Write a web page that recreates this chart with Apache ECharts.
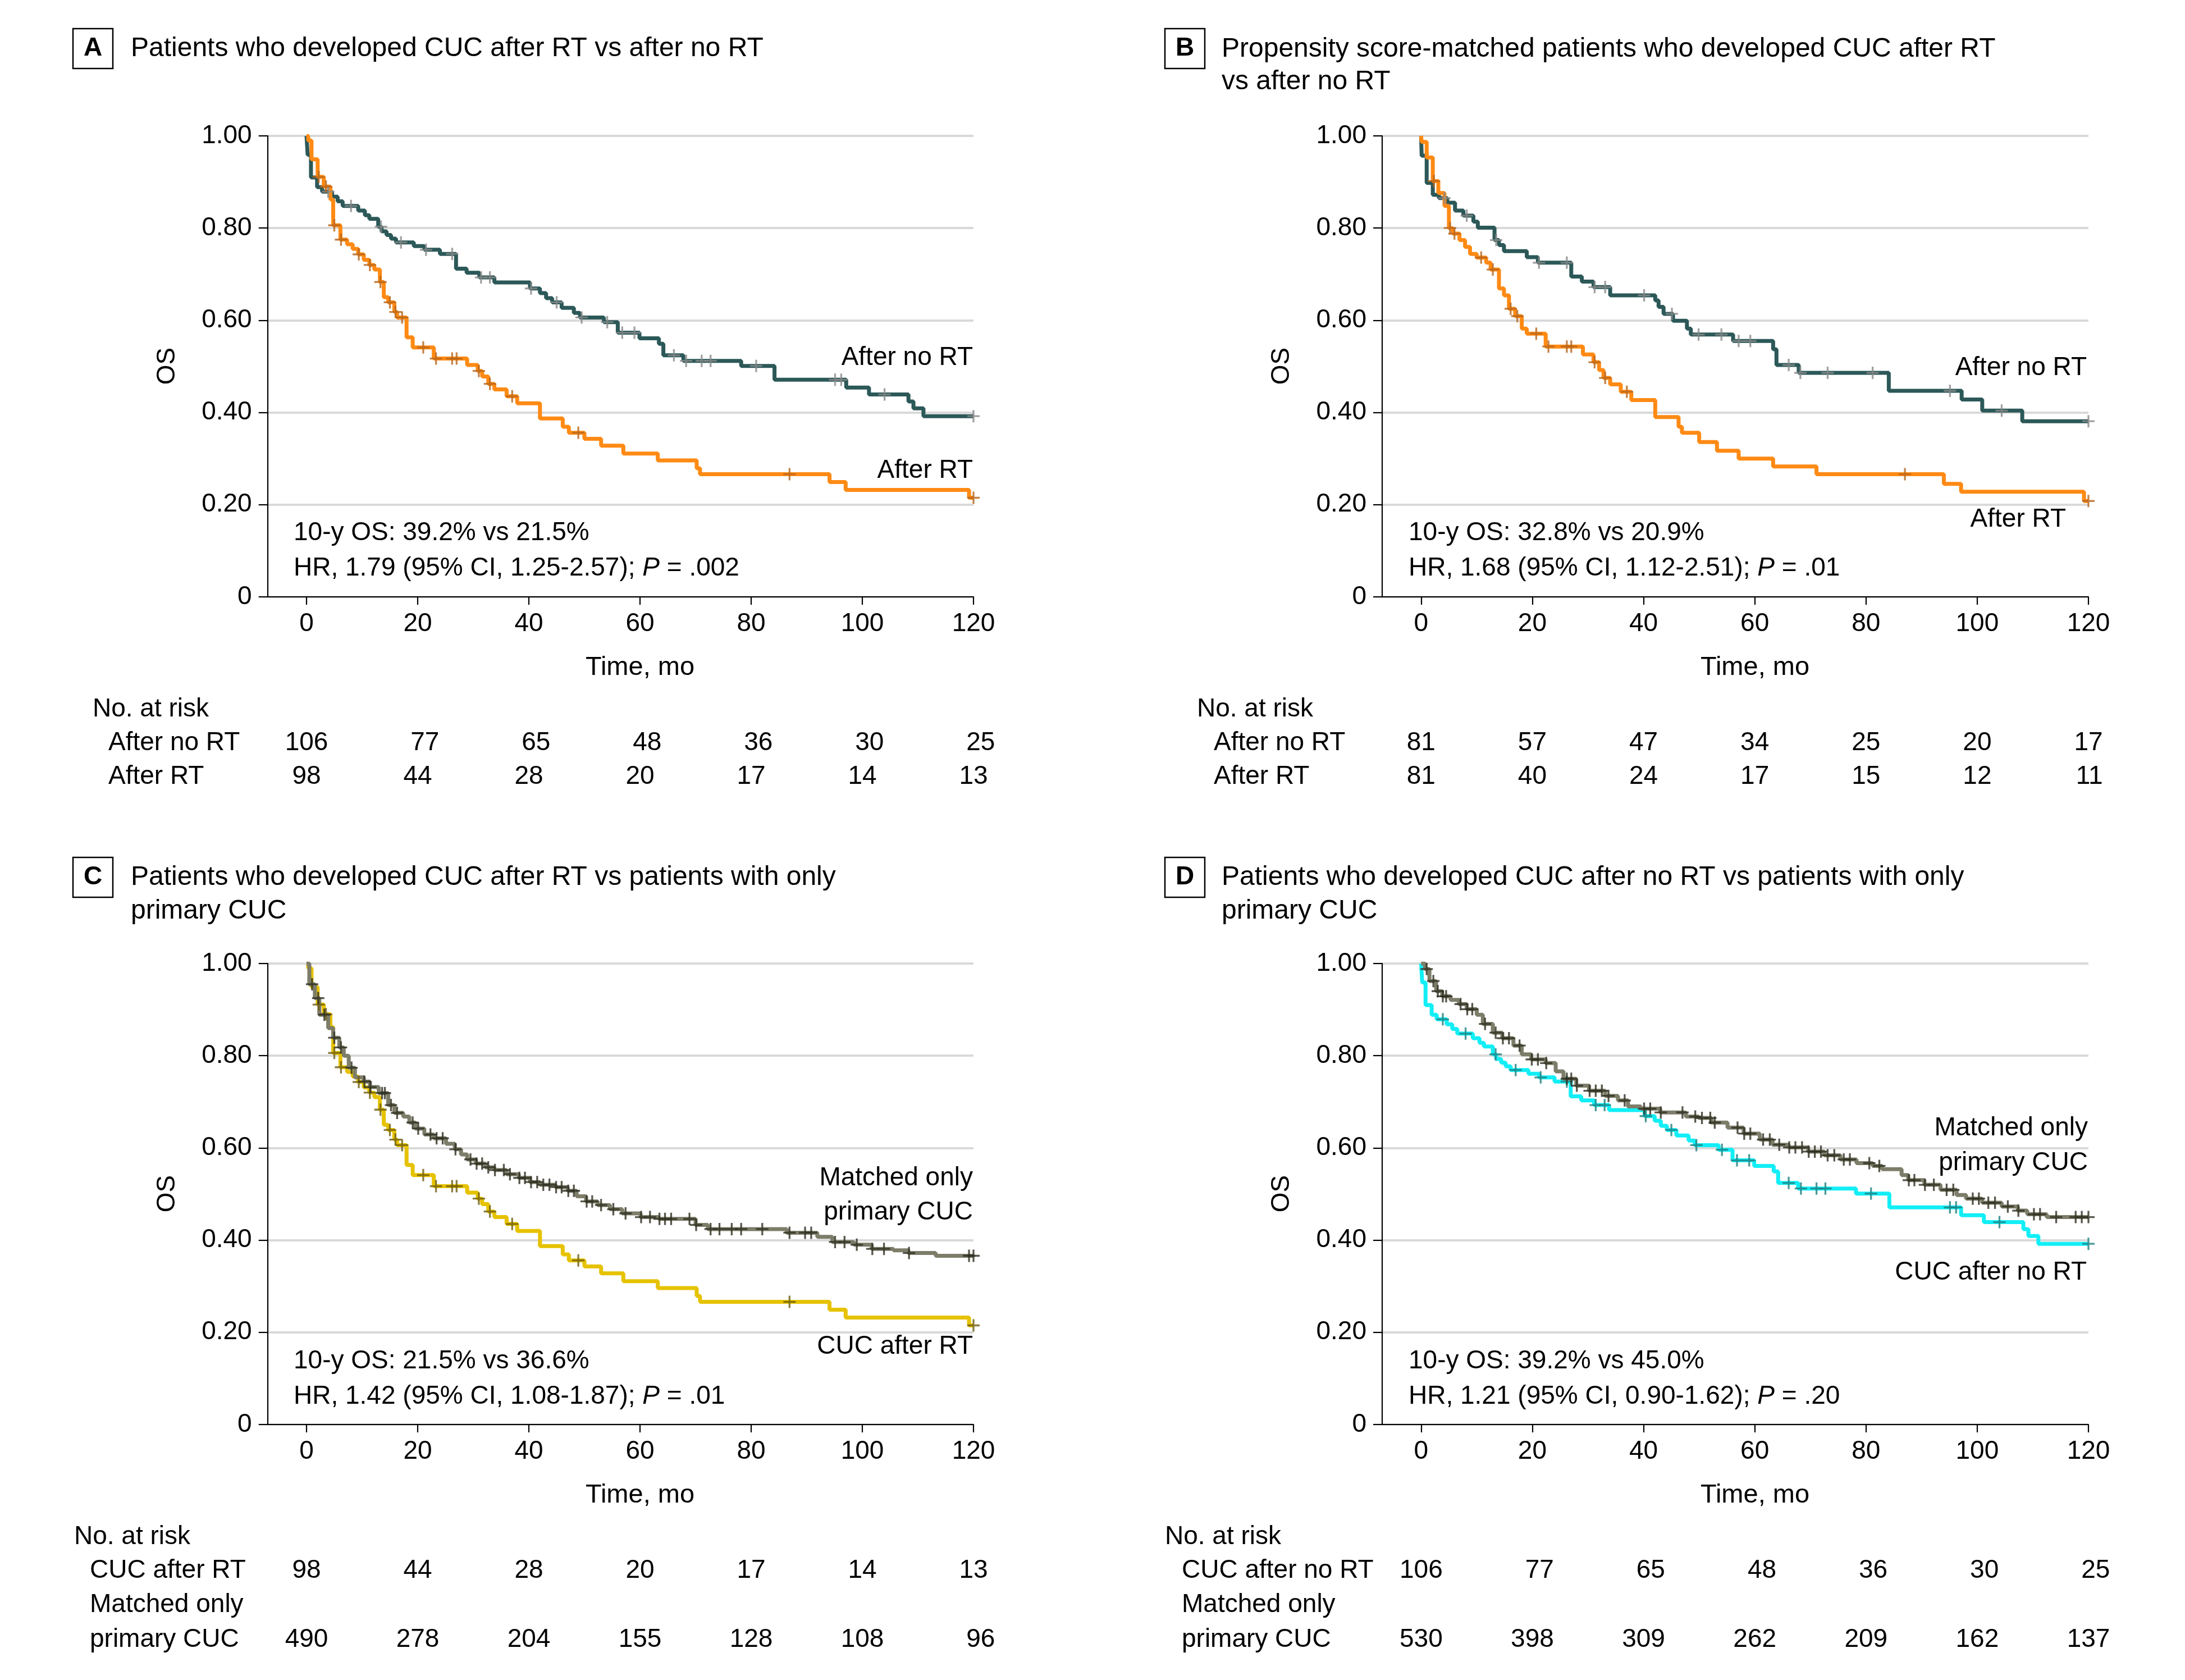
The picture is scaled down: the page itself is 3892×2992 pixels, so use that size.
<!DOCTYPE html>
<html>
<head>
<meta charset="utf-8">
<script src="https://cdn.jsdelivr.net/npm/echarts@6/dist/echarts.min.js"></script>
<style>
html,body{margin:0;padding:0;background:#fff;}
#c{width:3892px;height:2992px;}
</style>
</head>
<body>
<div id="c"></div>
<script>
// ---------------- DATA ----------------
const timeTicks = [0, 20, 40, 60, 80, 100, 120];
const osTicks = [0, 0.2, 0.4, 0.6, 0.8, 1.0];

// Panel A / D : patients who developed CUC after no RT  [month, survival]
const afterNoRT = [[0.2,0.959],[0.8,0.910],[1.9,0.889],[2.8,0.879],[4.6,0.868],[5.6,0.858],[6.5,0.848],[9.3,0.838],[10.5,0.828],[11.3,0.820],
  [12.9,0.803],[13.5,0.793],[14.4,0.785],[15.2,0.777],[16.1,0.769],[19.3,0.761],[21.2,0.753],[24.0,0.744],[26.9,0.712],[28.8,0.703],
  [31.1,0.693],[33.8,0.682],[40.2,0.669],[42.0,0.659],[43.1,0.648],[44.2,0.639],[45.9,0.627],[48.1,0.616],[49.2,0.606],[53.5,0.596],
  [56.0,0.573],[59.9,0.561],[63.4,0.549],[64.2,0.524],[67.8,0.512],[78.2,0.501],[84.2,0.471],[97.1,0.454],[101.2,0.439],[108.3,0.424],
  [109.2,0.409],[111.0,0.392]];
const afterNoRTCensor = [3.9,8.0,13.4,17.0,21.5,26.2,31.4,33.0,40.4,45.0,49.5,54.1,56.8,59.0,66.1,68.3,71.1,72.7,80.9,95.1,96.2,104.0,120];

// Panel A / C : patients who developed CUC after RT
const afterRT = [[0.3,0.990],[0.9,0.949],[2.0,0.911],[3.1,0.890],[4.3,0.862],[4.8,0.806],[6.1,0.775],[7.3,0.765],[8.3,0.755],[9.3,0.743],
  [10.3,0.731],[11.3,0.720],[12.2,0.710],[13.2,0.683],[13.9,0.650],[14.7,0.639],[15.8,0.618],[16.3,0.606],[18.0,0.563],[19.1,0.541],
  [22.9,0.517],[28.9,0.503],[30.8,0.490],[31.6,0.478],[32.7,0.462],[33.8,0.450],[36.0,0.435],[37.9,0.420],[42.0,0.387],[46.1,0.369],
  [47.2,0.356],[50.0,0.343],[53.0,0.328],[57.0,0.311],[63.2,0.296],[70.2,0.279],[70.8,0.266],[94.1,0.249],[97.0,0.232],[119.2,0.215]];
const afterRTCensor = [2.2,3.5,5.0,6.2,9.4,11.4,13.3,15.0,16.0,17.2,21.0,23.3,26.2,27.0,31.0,33.0,37.0,48.9,86.9,120];

// Panel B : propensity score-matched
const psmNoRT = [[0.1,0.957],[1.0,0.898],[2.1,0.872],[3.2,0.865],[4.7,0.855],[6.1,0.838],[7.6,0.827],[9.4,0.814],[10.2,0.801],[13.2,0.774],
  [14.0,0.763],[14.9,0.750],[19.0,0.737],[21.0,0.725],[27.0,0.695],[28.9,0.684],[31.0,0.672],[34.0,0.654],[42.1,0.643],[42.7,0.629],
  [43.6,0.614],[45.3,0.599],[47.8,0.582],[48.5,0.569],[56.1,0.555],[63.3,0.537],[63.9,0.503],[67.9,0.486],[84.1,0.447],[97.2,0.428],
  [100.9,0.404],[108.1,0.381]];
const psmNoRTCensor = [4.2,8.2,13.5,21.2,26.2,31.2,33.1,40.1,45.1,49.9,54.0,57.1,59.2,66.1,68.2,73.1,81.2,95.1,104.4,120];
const psmRT = [[0.1,0.987],[1.0,0.953],[2.1,0.902],[3.1,0.876],[4.2,0.848],[5.0,0.800],[5.7,0.788],[6.9,0.774],[7.9,0.759],[8.8,0.744],
  [10.0,0.736],[11.7,0.725],[12.5,0.710],[14.0,0.669],[14.9,0.654],[15.8,0.625],[16.9,0.609],[18.1,0.582],[19.0,0.571],[22.4,0.543],
  [29.1,0.526],[31.0,0.509],[32.0,0.492],[32.8,0.475],[34.0,0.461],[35.9,0.445],[37.8,0.427],[42.1,0.390],[46.3,0.369],[46.9,0.356],
  [50.0,0.336],[53.2,0.317],[57.1,0.300],[63.3,0.283],[71.1,0.266],[94.0,0.245],[97.1,0.228],[119.2,0.208]];
const psmRTCensor = [2.3,5.2,6.0,10.8,12.9,16.1,17.3,20.7,22.9,26.2,27.0,31.2,33.1,37.0,87.0,120];

// Panel C : matched only primary CUC (vs after RT)
const matchedC = [[0.5,0.955],[1.5,0.925],[2.3,0.889],[3.9,0.860],[4.8,0.839],[5.9,0.818],[6.7,0.800],[7.6,0.774],[8.7,0.753],[10.3,0.744],
  [11.4,0.732],[13.0,0.719],[14.7,0.693],[15.8,0.676],[17.4,0.668],[18.5,0.655],[19.6,0.642],[21.2,0.629],[22.9,0.621],[25.1,0.609],
  [26.7,0.597],[27.8,0.586],[28.9,0.575],[30.5,0.566],[32.2,0.558],[33.8,0.552],[36.0,0.543],[38.2,0.535],[40.2,0.526],[42.0,0.520],
  [44.8,0.515],[47.0,0.507],[48.6,0.495],[50.3,0.484],[52.4,0.476],[54.6,0.467],[56.8,0.458],[60.1,0.450],[63.4,0.446],[70.0,0.433],
  [72.2,0.424],[86.4,0.416],[91.9,0.407],[94.6,0.396],[98.5,0.390],[101.7,0.381],[105.6,0.378],[108.3,0.372],[113.2,0.366]];
const matchedCCensor = [1.0,2.1,3.2,5.0,6.2,8.1,10.4,11.5,13.6,14.1,15.2,16.3,19.1,20.1,22.3,23.4,24.5,26.8,29.5,30.6,31.6,32.7,33.9,
  35.5,36.6,38.3,39.3,40.4,41.5,42.6,43.7,44.9,45.9,47.1,48.1,50.4,51.4,53.0,55.2,57.4,60.2,61.8,63.5,64.5,65.6,68.9,70.1,72.7,74.3,
  76.5,78.2,82.0,86.9,89.7,90.8,95.1,96.8,99.0,101.8,103.9,108.4,119.2,120];

// Panel D : matched only primary CUC (vs after no RT)
const matchedD = [[0.7,0.988],[1.5,0.962],[2.7,0.940],[3.8,0.929],[5.3,0.921],[6.8,0.912],[8.2,0.901],[10.0,0.889],[11.1,0.869],[12.9,0.850],
  [14.6,0.838],[16.6,0.822],[18.1,0.803],[19.8,0.792],[22.4,0.784],[24.2,0.766],[25.6,0.750],[27.9,0.735],[30.2,0.724],[33.1,0.713],
  [35.4,0.703],[37.2,0.690],[39.5,0.685],[43.0,0.677],[47.6,0.668],[49.9,0.665],[52.2,0.655],[55.1,0.644],[58.0,0.631],[60.9,0.618],
  [63.2,0.607],[66.1,0.601],[69.6,0.592],[72.5,0.584],[75.4,0.575],[78.3,0.567],[81.2,0.561],[82.9,0.554],[86.4,0.541],[87.6,0.530],
  [90.5,0.520],[93.4,0.509],[96.3,0.498],[98.0,0.490],[100.9,0.481],[104.4,0.473],[107.3,0.464],[109.0,0.456],[112.5,0.450]];
const matchedDCensor = [1.0,2.2,3.0,3.9,4.5,7.1,8.3,9.2,11.5,13.4,14.7,15.8,17.7,19.9,21.0,22.5,26.2,27.0,28.0,30.3,31.4,32.5,33.7,36.6,
  40.1,41.2,43.1,47.0,49.3,50.5,52.0,52.8,56.9,58.1,59.2,61.5,62.7,64.4,66.2,67.3,68.5,69.7,70.8,71.9,73.1,74.3,76.0,77.1,80.6,82.4,
  87.7,88.7,90.6,92.2,94.5,95.7,99.2,100.3,102.0,103.2,105.5,107.4,110.2,111.3,114.2,117.7,118.8,120];

// Numbers at risk
const riskA_noRT = [106, 77, 65, 48, 36, 30, 25];
const riskA_RT = [98, 44, 28, 20, 17, 14, 13];
const riskB_noRT = [81, 57, 47, 34, 25, 20, 17];
const riskB_RT = [81, 40, 24, 17, 15, 12, 11];
const riskC_RT = [98, 44, 28, 20, 17, 14, 13];
const riskC_matched = [490, 278, 204, 155, 128, 108, 96];
const riskD_noRT = [106, 77, 65, 48, 36, 30, 25];
const riskD_matched = [530, 398, 309, 262, 209, 162, 137];

// ---------------- STYLE ----------------
const FONT = "'Liberation Sans', Arial, sans-serif";
const FS = 46;
const C_TEAL = '#2C5858', C_TEAL_M = '#8A8A8A';
const C_ORANGE = '#FF8A14', C_ORANGE_M = '#B5651D';
const C_YELLOW = '#E6C200', C_YELLOW_M = '#6E5E10';
const C_MATCH = '#7D7D6A', C_MATCH_M = '#2E2E20';
const C_CYAN = '#12EEF6', C_CYAN_M = '#1E7F80';
const PLUS = 'path://M8.5,0H11.5V8.5H20V11.5H11.5V20H8.5V11.5H0V8.5H8.5Z';

const grids = [
  {left: 476.7, top: 242, width: 1257.3, height: 821},
  {left: 2462, top: 242, width: 1258, height: 821},
  {left: 476.7, top: 1716, width: 1257.3, height: 821},
  {left: 2462, top: 1716, width: 1258, height: 821}
];

function stepAt(pairs, t) {
  let s = 1;
  for (const p of pairs) { if (p[0] <= t) s = p[1]; else break; }
  return s;
}
function curveData(pairs) {
  return [[0, 1]].concat(pairs).concat([[120, pairs[pairs.length - 1][1]]]);
}
function censorData(pairs, times) {
  return times.map(t => [t, stepAt(pairs, t)]);
}
function lineSeries(idx, pairs, color) {
  return {type: 'line', xAxisIndex: idx, yAxisIndex: idx, step: 'end', symbol: 'none',
    data: curveData(pairs), lineStyle: {color: color, width: 7}, itemStyle: {color: color},
    silent: true, z: 3};
}
function censorSeries(idx, pairs, times, color) {
  return {type: 'scatter', xAxisIndex: idx, yAxisIndex: idx, symbol: PLUS, symbolSize: 22,
    data: censorData(pairs, times), itemStyle: {color: color}, silent: true, z: 5};
}

const xAxes = grids.map((g, i) => ({
  type: 'value', gridIndex: i, min: -7, max: 120,
  axisLine: {show: true, onZero: false, lineStyle: {color: '#000', width: 2.2}},
  axisTick: {show: true, length: 14, lineStyle: {color: '#000', width: 2.2}, customValues: timeTicks},
  axisLabel: {show: true, margin: 25, fontSize: FS, fontFamily: FONT, color: '#000', customValues: timeTicks},
  splitLine: {show: false}
}));
const yAxes = grids.map((g, i) => ({
  type: 'value', gridIndex: i, min: 0, max: 1, interval: 0.2,
  axisLine: {show: true, onZero: false, lineStyle: {color: '#000', width: 2.2}},
  axisTick: {show: true, length: 16, lineStyle: {color: '#000', width: 2.2}},
  axisLabel: {show: true, margin: 28, fontSize: FS, fontFamily: FONT, color: '#000',
    formatter: v => (v === 0 ? '0' : v.toFixed(2))},
  splitLine: {show: true, lineStyle: {color: '#D9D9D9', width: 4}}
}));

const series = [
  lineSeries(0, afterNoRT, C_TEAL), lineSeries(0, afterRT, C_ORANGE),
  censorSeries(0, afterNoRT, afterNoRTCensor, C_TEAL_M), censorSeries(0, afterRT, afterRTCensor, C_ORANGE_M),
  lineSeries(1, psmNoRT, C_TEAL), lineSeries(1, psmRT, C_ORANGE),
  censorSeries(1, psmNoRT, psmNoRTCensor, C_TEAL_M), censorSeries(1, psmRT, psmRTCensor, C_ORANGE_M),
  lineSeries(2, afterRT, C_YELLOW), lineSeries(2, matchedC, C_MATCH),
  censorSeries(2, afterRT, afterRTCensor, C_YELLOW_M), censorSeries(2, matchedC, matchedCCensor, C_MATCH_M),
  lineSeries(3, afterNoRT, C_CYAN), lineSeries(3, matchedD, C_MATCH),
  censorSeries(3, afterNoRT, afterNoRTCensor, C_CYAN_M), censorSeries(3, matchedD, matchedDCensor, C_MATCH_M)
];

const chart = echarts.init(document.getElementById('c'), null, {renderer: 'canvas'});
chart.setOption({
  animation: false,
  backgroundColor: '#fff',
  grid: grids,
  xAxis: xAxes,
  yAxis: yAxes,
  series: series
});

// ---------------- TEXT ----------------
const G = [];
function T(x, y, text, o) {
  o = o || {};
  const el = {type: 'text', x: x, y: y, z: 10, silent: true,
    style: {text: text, fontSize: o.fs || FS, fontFamily: FONT, fill: '#000',
      fontWeight: o.bold ? 'bold' : 'normal',
      align: o.align || 'left', verticalAlign: o.va || 'middle',
      rich: {i: {fontStyle: 'italic', fontSize: o.fs || FS, fontFamily: FONT, fill: '#000'}}}};
  if (o.rot) el.rotation = o.rot;
  G.push(el);
}
function box(x0, y0, x1, y1, letter) {
  G.push({type: 'rect', shape: {x: x0, y: y0, width: x1 - x0, height: y1 - y0}, z: 10, silent: true,
    style: {fill: 'none', stroke: '#000', lineWidth: 2.5}});
  T((x0 + x1) / 2, (y0 + y1) / 2, letter, {bold: true, align: 'center', fs: 46});
}

const mctx = document.createElement('canvas').getContext('2d');
mctx.font = FS + 'px ' + FONT;
function riskRow(gi, vals, y) {
  const w = Math.max.apply(null, vals.map(v => mctx.measureText(String(v)).width));
  vals.forEach((v, k) => {
    const px = chart.convertToPixel({xAxisIndex: gi}, timeTicks[k]);
    T(px + w / 2, y, String(v), {align: 'right'});
  });
}

// Panel A
box(130, 51, 201, 122, 'A');
T(233, 87, 'Patients who developed CUC after RT vs after no RT', {fs: 48});
T(523, 949, '10-y OS: 39.2% vs 21.5%');
T(523, 1012, 'HR, 1.79 (95% CI, 1.25-2.57); {i|P} = .002');
T(1733, 637, 'After no RT', {align: 'right'});
T(1733, 838, 'After RT', {align: 'right'});
T(1140, 1189, 'Time, mo', {align: 'center', fs: 47});
T(298, 652, 'OS', {align: 'center', rot: Math.PI / 2});
T(165, 1263, 'No. at risk');
T(193, 1323, 'After no RT');
T(193, 1383, 'After RT');

// Panel B
box(2075, 51, 2146, 122, 'B');
T(2176, 88, 'Propensity score-matched patients who developed CUC after RT', {fs: 48});
T(2176, 146, 'vs after no RT', {fs: 48});
T(2509, 949, '10-y OS: 32.8% vs 20.9%');
T(2509, 1012, 'HR, 1.68 (95% CI, 1.12-2.51); {i|P} = .01');
T(3717, 655, 'After no RT', {align: 'right'});
T(3680, 925, 'After RT', {align: 'right'});
T(3126, 1189, 'Time, mo', {align: 'center', fs: 47});
T(2283, 652, 'OS', {align: 'center', rot: Math.PI / 2});
T(2132, 1263, 'No. at risk');
T(2162, 1323, 'After no RT');
T(2162, 1383, 'After RT');

// Panel C
box(130, 1527, 201, 1598, 'C');
T(233, 1563, 'Patients who developed CUC after RT vs patients with only', {fs: 48});
T(233, 1623, 'primary CUC', {fs: 48});
T(523, 2424, '10-y OS: 21.5% vs 36.6%');
T(523, 2487, 'HR, 1.42 (95% CI, 1.08-1.87); {i|P} = .01');
T(1733, 2098, 'Matched only', {align: 'right'});
T(1733, 2159, 'primary CUC', {align: 'right'});
T(1733, 2398, 'CUC after RT', {align: 'right'});
T(1140, 2663, 'Time, mo', {align: 'center', fs: 47});
T(298, 2126, 'OS', {align: 'center', rot: Math.PI / 2});
T(132, 2737, 'No. at risk');
T(160, 2797, 'CUC after RT');
T(160, 2858, 'Matched only');
T(160, 2920, 'primary CUC');

// Panel D
box(2075, 1527, 2146, 1598, 'D');
T(2176, 1563, 'Patients who developed CUC after no RT vs patients with only', {fs: 48});
T(2176, 1623, 'primary CUC', {fs: 48});
T(2509, 2424, '10-y OS: 39.2% vs 45.0%');
T(2509, 2487, 'HR, 1.21 (95% CI, 0.90-1.62); {i|P} = .20');
T(3719, 2009, 'Matched only', {align: 'right'});
T(3719, 2071, 'primary CUC', {align: 'right'});
T(3717, 2266, 'CUC after no RT', {align: 'right'});
T(3126, 2663, 'Time, mo', {align: 'center', fs: 47});
T(2283, 2126, 'OS', {align: 'center', rot: Math.PI / 2});
T(2075, 2737, 'No. at risk');
T(2105, 2797, 'CUC after no RT');
T(2105, 2858, 'Matched only');
T(2105, 2920, 'primary CUC');

// risk numbers
riskRow(0, riskA_noRT, 1323); riskRow(0, riskA_RT, 1383);
riskRow(1, riskB_noRT, 1323); riskRow(1, riskB_RT, 1383);
riskRow(2, riskC_RT, 2797); riskRow(2, riskC_matched, 2920);
riskRow(3, riskD_noRT, 2797); riskRow(3, riskD_matched, 2920);

chart.setOption({graphic: {elements: G}});
</script>
</body>
</html>
